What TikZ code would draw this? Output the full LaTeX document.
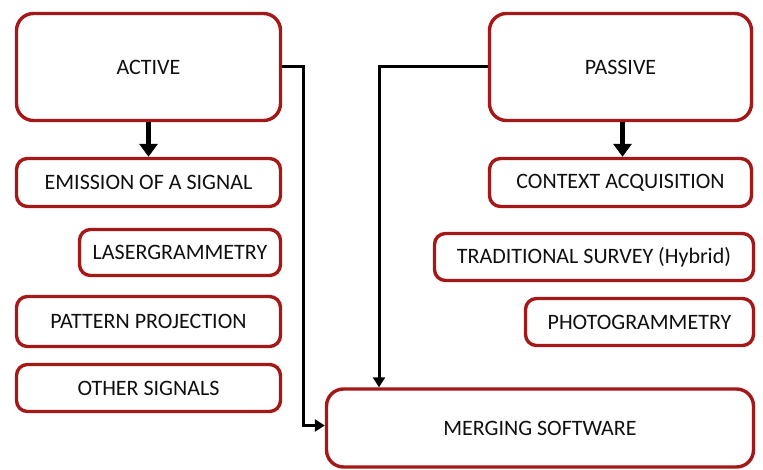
\documentclass[tikz,border=0pt]{standalone}
\usepackage{fontspec}
\setmainfont{Carlito}
\usetikzlibrary{arrows.meta,calc}
\definecolor{boxred}{HTML}{A51818}
\definecolor{txt}{HTML}{101010}
\tikzset{
  box/.style={draw=boxred, line width=3.4pt, rounded corners=11pt, fill=white,
    text=txt, font=\fontsize{22}{24}\selectfont, inner sep=0pt, align=center},
  bigbox/.style={box, rounded corners=17pt},
  conn/.style={draw=black, line width=3pt, -{Triangle[length=10pt,width=12pt]}},
  thick arrow/.style={draw=black, line width=5pt, -{Triangle[length=13pt,width=18pt]}},
}
\begin{document}
\begin{tikzpicture}[x=1pt,y=-1pt]
\useasboundingbox (0,0) rectangle (763,470);
\node[bigbox, minimum width=264pt, minimum height=107pt] (active) at (148.5,67) {ACTIVE};
\node[box, minimum width=264pt, minimum height=48pt] (emission) at (148.5,182.5) {EMISSION OF A SIGNAL};
\node[box, minimum width=201pt, minimum height=46pt] (laser) at (180,252.5) {LASERGRAMMETRY};
\node[box, minimum width=264pt, minimum height=50pt] (pattern) at (148.5,321.5) {PATTERN PROJECTION};
\node[box, minimum width=264pt, minimum height=47pt] (other) at (148.5,388) {OTHER SIGNALS};
\node[bigbox, minimum width=262pt, minimum height=107pt] (passive) at (620.5,67) {PASSIVE};
\node[box, minimum width=262pt, minimum height=48pt] (context) at (620.5,182.5) {CONTEXT ACQUISITION};
\node[box, minimum width=319pt, minimum height=47pt] (trad) at (594,257) {TRADITIONAL SURVEY (Hybrid)};
\node[box, minimum width=228pt, minimum height=47pt] (photo) at (639.5,322) {PHOTOGRAMMETRY};
\node[bigbox, minimum width=427pt, minimum height=78pt] (merging) at (540,428) {MERGING SOFTWARE};
\coordinate (j1) at (303,250);
\coordinate (j2) at (379,250);
\draw[thick arrow] (active.south) -- (emission.north);
\draw[thick arrow] ([xshift=2pt]passive.south) -- ([xshift=2pt]context.north);
\draw[conn] (active.east) -| (j1) |- ([yshift=2.5pt]merging.west);
\draw[conn] (passive.west) -| (j2 |- merging.north);
\end{tikzpicture}
\end{document}
